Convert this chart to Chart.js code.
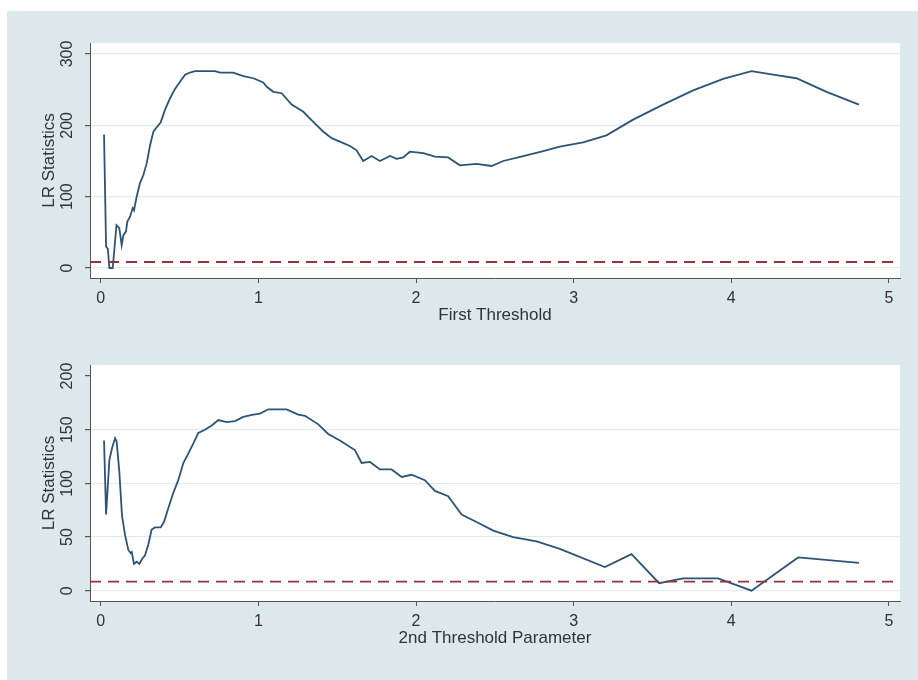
<!DOCTYPE html>
<html>
<head>
<meta charset="utf-8">
<script src="https://cdn.jsdelivr.net/npm/chart.js@4.4.0/dist/chart.umd.min.js"></script>
<style>
  html, body { margin: 0; padding: 0; background: #fff; }
  #bg { position: absolute; left: 7px; top: 11px; width: 911px; height: 669px; background: #dce8ec; }
  .panel { position: absolute; left: 0; width: 918px; height: 340px; }
</style>
</head>
<body>
<div id="bg"></div>
<div class="panel" style="top:0px"><canvas id="topChart" width="918" height="340"></canvas></div>
<div class="panel" style="top:340px"><canvas id="bottomChart" width="918" height="340"></canvas></div>
<script>
// first threshold search
const firstThreshold = [0.021, 0.034, 0.045, 0.055, 0.076, 0.10, 0.118, 0.133, 0.144, 0.16, 0.169, 0.186, 0.203, 0.211, 0.228, 0.249, 0.27, 0.292, 0.313, 0.334, 0.354, 0.38, 0.408, 0.44, 0.471, 0.503, 0.535, 0.566, 0.598, 0.66, 0.725, 0.757, 0.841, 0.904, 0.968, 1.031, 1.053, 1.095, 1.148, 1.211, 1.285, 1.348, 1.412, 1.465, 1.528, 1.581, 1.623, 1.665, 1.718, 1.771, 1.835, 1.877, 1.919, 1.961, 2.046, 2.12, 2.204, 2.278, 2.384, 2.479, 2.553, 2.68, 2.807, 2.912, 3.06, 3.208, 3.377, 3.567, 3.758, 3.948, 4.128, 4.265, 4.413, 4.604, 4.81];
const firstLR = [187, 30, 27, 0, 0, 60, 56, 32, 46, 51, 65, 72, 84, 81, 100, 119, 130, 147, 172, 191, 197, 204, 222, 238, 251, 261, 271, 274, 276, 276, 276, 274, 274, 269, 266, 260, 254, 247, 245, 229, 219, 205, 191, 182, 176, 171, 165, 150, 157, 150, 157, 153, 155, 163, 161, 156, 155, 144, 146, 143, 150, 157, 164, 170, 176, 186, 208, 229, 249, 265, 276, 271, 266, 247, 229];

// second threshold search
const secondThreshold = [0.021, 0.034, 0.055, 0.072, 0.091, 0.101, 0.118, 0.135, 0.154, 0.175, 0.19, 0.197, 0.211, 0.228, 0.245, 0.26, 0.281, 0.302, 0.323, 0.344, 0.38, 0.401, 0.429, 0.46, 0.492, 0.524, 0.556, 0.587, 0.619, 0.661, 0.704, 0.746, 0.799, 0.852, 0.904, 0.968, 1.01, 1.063, 1.179, 1.253, 1.296, 1.38, 1.443, 1.517, 1.612, 1.655, 1.708, 1.771, 1.845, 1.909, 1.972, 2.056, 2.12, 2.204, 2.289, 2.384, 2.49, 2.616, 2.765, 2.912, 3.198, 3.367, 3.542, 3.694, 3.916, 4.128, 4.424, 4.81];
const secondLR = [140, 71, 122, 133, 142, 139, 111, 70, 52, 38, 35, 36, 25, 27, 25, 29, 33, 43, 57, 59, 59, 64, 77, 91, 103, 119, 128, 137, 147, 150, 154, 159, 157, 158, 162, 164, 165, 169, 169, 164, 163, 155, 146, 140, 131, 119, 120, 113, 113, 106, 108, 103, 93, 88, 71, 64, 56, 50, 46, 39, 22, 34, 7, 11.5, 11.5, 0, 31, 26];

const criticalValue = 8.4;
const xTicks = [0, 1, 2, 3, 4, 5];
const firstYTicks = [0, 100, 200, 300];
const secondYTicks = [0, 50, 100, 150, 200];

const xMin = -0.068, xMax = 5.07;
const FONT = "'Liberation Sans', Arial, Helvetica, sans-serif";
const axisColor = '#555';
const gridColor = '#e2eaed';

const plotBg = {
  id: 'plotBg',
  beforeDraw(chart) {
    const { ctx, chartArea: a } = chart;
    ctx.save();
    ctx.fillStyle = '#ffffff';
    ctx.fillRect(a.left, a.top, a.width, a.height);
    ctx.restore();
  }
};

function makeChart(id, xs, ys, yMin, yMax, yTicks, xTitle, padTop, xAxisH, xTitlePad, noGridAt) {
  const pts = xs.map((x, i) => ({ x: x, y: ys[i] }));
  return new Chart(document.getElementById(id), {
    type: 'line',
    data: {
      datasets: [
        {
          data: pts,
          borderColor: '#2d5477',
          borderWidth: 1.8,
          pointRadius: 0,
          tension: 0,
          order: 2
        },
        {
          data: [{ x: xMin, y: criticalValue }, { x: xMax, y: criticalValue }],
          borderColor: '#90353b',
          borderWidth: 1.8,
          borderDash: [11, 7],
          pointRadius: 0,
          order: 1
        }
      ]
    },
    options: {
      responsive: false,
      animation: false,
      layout: { padding: { left: 0, top: padTop, right: 18, bottom: 0 } },
      plugins: { legend: { display: false }, tooltip: { enabled: false } },
      scales: {
        x: {
          type: 'linear',
          min: xMin,
          max: xMax,
          afterBuildTicks: s => { s.ticks = xTicks.map(v => ({ value: v })); },
          afterFit: s => { s.height = xAxisH; },
          grid: { drawOnChartArea: false, drawTicks: true, tickLength: 5, tickColor: axisColor, color: axisColor },
          border: { display: true, color: axisColor, width: 1 },
          ticks: { color: '#333', font: { family: FONT, size: 16 }, padding: 6, maxRotation: 0, autoSkip: false },
          title: { display: true, text: xTitle, color: '#333', font: { family: FONT, size: 17 }, padding: { top: 0, bottom: xTitlePad } }
        },
        y: {
          type: 'linear',
          min: yMin,
          max: yMax,
          afterBuildTicks: s => { s.ticks = yTicks.map(v => ({ value: v })); },
          afterFit: s => { s.width = 90; },
          grid: {
            drawTicks: true,
            tickLength: 5,
            tickColor: axisColor,
            color: c => (c.tick && c.tick.value === noGridAt) ? 'rgba(0,0,0,0)' : gridColor,
            lineWidth: 1.2
          },
          border: { display: true, color: axisColor, width: 1 },
          ticks: { color: '#333', font: { family: FONT, size: 16 }, padding: 4, minRotation: 90, maxRotation: 90, crossAlign: 'center', autoSkip: false },
          title: { display: true, text: 'LR Statistics', color: '#333', font: { family: FONT, size: 17 }, padding: { top: 39, bottom: 0 } }
        }
      }
    },
    plugins: [plotBg]
  });
}

makeChart('topChart', firstThreshold, firstLR, -14, 315.4, firstYTicks, 'First Threshold', 43, 62, 14, null);
makeChart('bottomChart', secondThreshold, secondLR, -9.6, 210.3, secondYTicks, '2nd Threshold Parameter', 25, 79, 31, 200);
</script>
</body>
</html>
